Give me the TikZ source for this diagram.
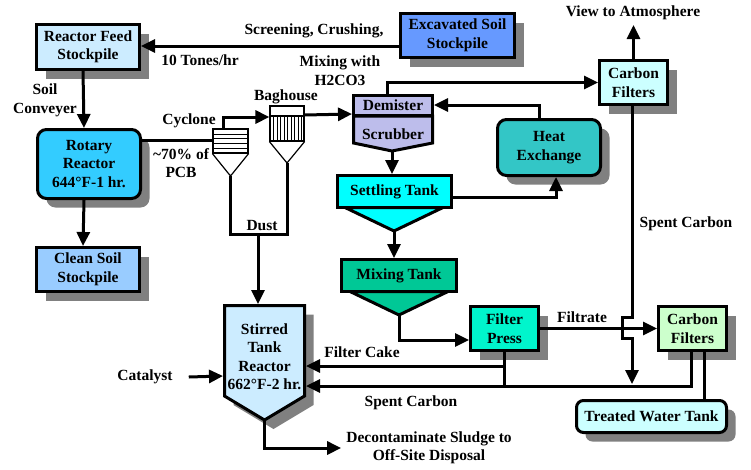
\documentclass[tikz,border=0pt]{standalone}
\usepackage{fontspec}
\setmainfont{Liberation Serif}
\usetikzlibrary{arrows.meta,shadows}
\definecolor{cfeed}{HTML}{CCECFF}
\definecolor{cexc}{HTML}{6699FF}
\definecolor{crot}{HTML}{33CCFF}
\definecolor{cclean}{HTML}{99CCFF}
\definecolor{cdem}{HTML}{BDBDEB}
\definecolor{cset}{HTML}{00FFFF}
\definecolor{cmix}{HTML}{00C896}
\definecolor{cheat}{HTML}{33C6C6}
\definecolor{cfp}{HTML}{00F5CC}
\definecolor{ccft}{HTML}{CCFFFF}
\definecolor{ccfb}{HTML}{CCFFCC}
\definecolor{shgray}{HTML}{808080}
\newcommand{\lblfont}{\bfseries\fontsize{15.5}{18.5}\selectfont}
\begin{document}
\begin{tikzpicture}[x=1pt,y=-1pt,
  box/.style={draw, line width=3pt, align=center, inner sep=0pt, font=\lblfont},
  shad/.style={drop shadow={shadow xshift=9pt,shadow yshift=-9pt,fill=shgray,opacity=1}},
  arr/.style={line width=3pt, -{Triangle[length=14pt,width=13pt]}},
  conn/.style={line width=3pt},
  lbl/.style={font=\lblfont, align=center, inner sep=0pt},
  thin/.style={line width=1.2pt}]
\useasboundingbox (0,0) rectangle (751,469);

% ---- boxes
\node[box, shad, fill=cfeed, minimum width=103, minimum height=45] (rfs) at (88,47) {Reactor Feed\\Stockpile};
\node[box, shad, fill=cexc, minimum width=114, minimum height=44] (exc) at (457.5,35.5) {Excavated Soil\\Stockpile};
\node[box, shad, fill=crot, rounded corners=9pt, minimum width=103, minimum height=69] (rot) at (89,164) {Rotary\\Reactor\\644°F-1 hr.};
\node[box, shad, fill=cclean, minimum width=103, minimum height=44] (clean) at (88,269.5) {Clean Soil\\Stockpile};
\node[box, shad, fill=ccft, minimum width=68, minimum height=44] (cft) at (633.5,82.5) {Carbon\\Filters};
\node[box, shad, fill=cheat, rounded corners=9pt, minimum width=103, minimum height=56] (heat) at (549,147.5) {Heat\\Exchange};
\node[box, shad, fill=cfp, minimum width=68, minimum height=44] (fp) at (504.5,328.5) {Filter\\Press};
\node[box, shad, fill=ccfb, minimum width=68, minimum height=44] (cfb) at (692.5,328.5) {Carbon\\Filters};
\node[box, shad, fill=ccft, rounded corners=7pt, minimum width=150, minimum height=32] (tw) at (651.5,416.5) {Treated Water Tank};

% ---- demister / scrubber
\draw[line width=3pt, fill=cdem] (353.5,116) -- (432.5,116) -- (432.5,143) -- (392,151) coordinate (scrapex) -- (353.5,143) -- cycle;
\node[lbl] (scr) at (393,134) {Scrubber};
\node[box, fill=cdem, minimum width=79, minimum height=20] (dem) at (393,105) {Demister};

% ---- settling tank
\draw[line width=3pt, fill=cset] (345,207.5) -- (443,207.5) -- (394,231) coordinate (setapex) -- cycle;
\node[box, fill=cset, minimum width=114, minimum height=32] (set) at (394.5,191.5) {Settling Tank};

% ---- mixing tank
\draw[line width=3pt, fill=cmix] (350,291.5) -- (448,291.5) -- (399,315) coordinate (mixapex) -- cycle;
\node[box, fill=cmix, minimum width=115, minimum height=32] (mix) at (399,275.5) {Mixing Tank};

% ---- stirred tank reactor
\fill[shgray] (233.5,314.5) -- (313.5,314.5) -- (313.5,405) -- (273.5,429) -- (233.5,405) -- cycle;
\draw[line width=3pt, fill=cfeed] (224.5,305.5) -- (304.5,305.5) -- (304.5,396) -- (264.5,420) coordinate (stapex) -- (224.5,396) -- cycle;
\node[lbl] (st) at (264.5,356.5) {Stirred\\Tank\\Reactor\\662°F-2 hr.};
\coordinate (stn) at (258,304);
\coordinate (stw) at (223,376);
\coordinate (stcake) at (306,366);
\coordinate (stspent) at (306,386);

% ---- cyclone
\node[draw, thin, fill=white, minimum width=35, minimum height=24, inner sep=0pt] (cyc) at (230.5,141) {};
\foreach \yy in {134,138,143,148} \draw[line width=0.9pt] (213,\yy) -- (248,\yy);
\draw[thin] (cyc.south west) -- (230.5,176) coordinate (cycapex) -- (cyc.south east);

% ---- baghouse
\node[draw, thin, fill=white, minimum width=34, minimum height=35, inner sep=0pt] (bag) at (287,123.5) {};
\foreach \xx in {273.5,277,280.5,284,287.5,291,294.5,298,301.5} \draw[line width=0.9pt] (\xx,116) -- (\xx,141);
\draw[line width=1.8pt] (270,116) -- (304,116);
\draw[thin] (bag.south west) -- (287,163) coordinate (bagapex) -- (bag.south east);

% ---- connectors
\draw[arr] (exc.west |- 0,46) -- (rfs.east |- 0,46);
\draw[arr] ([xshift=-5pt]rfs.south) -- ([xshift=-5pt]rot.north);
\draw[arr] ([xshift=-5pt]rot.south) -- ([xshift=-5pt]clean.north);
\draw[conn] ([yshift=24pt]rot.east) -- (cyc.west |- 0,140);
\draw[arr] ([xshift=-7.5pt]cyc.north) |- ([yshift=6.5pt]bag.west);
\draw[conn] (cycapex) -- (230.5,234) coordinate (dustl) -| (bagapex);
\draw[arr] (dustl -| stn) -- (stn);
\draw[arr] ([yshift=8.5pt]bag.east) -- ([yshift=-9pt]dem.west);
\draw[arr] ([xshift=-6pt]dem.north) |- (cft.west);
\draw[arr] ([xshift=-10pt]heat.north) |- (dem.east);
\draw[arr] (scrapex) -- (scrapex |- set.north);
\draw[arr] ([yshift=-5.5pt]set.east) -| ([xshift=7pt]heat.south);
\draw[arr] (setapex) -- (setapex |- mix.north);
\draw[arr] (mixapex) |- ([yshift=-11.5pt]fp.west);
\draw[arr] (fp.east) -- (cfb.west);
\draw[arr] ([xshift=-1.5pt]cft.south) -- ([xshift=-1.5pt]cft.south |- 0,317) -- (622,317) -- (622,338) -- (632,338) -- (632,384);
\draw[conn] (fp.south) -- (fp.south |- 0,386);
\draw[arr] (fp.south |- 0,366) -- (stcake);
\draw[arr] ([xshift=-1.5pt]cfb.south) -- ([xshift=-1.5pt]cfb.south |- 0,386) -- (stspent);
\draw[conn] ([xshift=11.5pt]cfb.south) -- ([xshift=11.5pt]cfb.south |- tw.north);

% ---- labels
\node[lbl] (l1) at (314,31) {Screening, Crushing,};
\node[lbl] (l2) at (200,60) {10 Tones/hr};
\node[lbl] (l3) at (340,70.5) {Mixing with\\H2CO3};
\node[lbl] (l4) at (45,100.5) {Soil\\Conveyer};
\node[lbl] (l5) at (189,121) {Cyclone};
\node[lbl] (l6) at (181,163) {\textasciitilde70\% of\\PCB};
\node[lbl] (l7) at (286,97) {Baghouse};
\node[lbl] (l8) at (262,226) {Dust};
\node[lbl] (l9) at (633,13) {View to Atmosphere};
\node[lbl] (l10) at (686,224) {Spent Carbon};
\node[lbl] (l11) at (582,317) {Filtrate};
\node[lbl] (l12) at (362,352) {Filter Cake};
\node[lbl] (l13) at (411,403) {Spent Carbon};
\node[lbl] (cat) at (145,377) {Catalyst};
\node[lbl] (dec) at (429,448) {Decontaminate Sludge to\\Off-Site Disposal};

\draw[arr] (cft.north) -- (cft.north |- 0,25);
\draw[arr] ([xshift=16pt]cat.east) -- (stw);
\draw[arr] (stapex) |- ([xshift=-5pt]dec.west);
\end{tikzpicture}
\end{document}
